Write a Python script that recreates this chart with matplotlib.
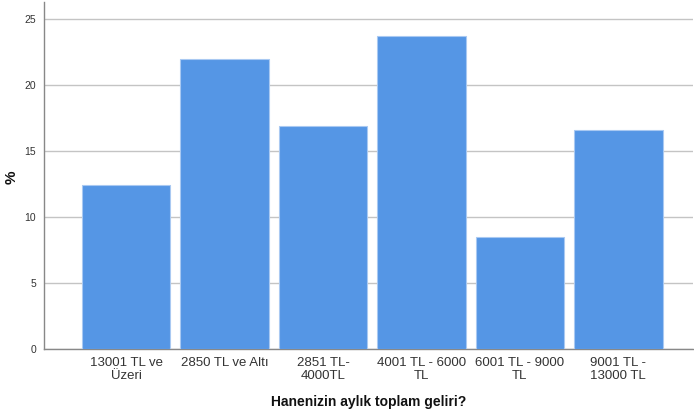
import matplotlib
matplotlib.use("Agg")
import matplotlib.pyplot as plt

categories = ["13001 TL ve\nÜzeri", "2850 TL ve Altı", "2851 TL-\n4000TL",
              "4001 TL - 6000\nTL", "6001 TL - 9000\nTL", "9001 TL -\n13000 TL"]
values = [12.4, 22.0, 16.9, 23.7, 8.5, 16.6]
yticks = [0, 5, 10, 15, 20, 25]

plt.rcParams['font.family'] = ['Liberation Sans', 'DejaVu Sans']

fig = plt.figure(figsize=(6.94, 4.16), dpi=100)
ax = fig.add_axes([0.064, 0.161, 0.9346, 0.834])

x = list(range(len(categories)))
ax.bar(x, values, width=0.9, color='#5596E5', edgecolor='#a9c9f2', linewidth=0.8, zorder=3)

ax.set_xlim(-0.83, 5.76)
ax.set_ylim(0, 26.3)
ax.set_yticks(yticks)
ax.set_yticklabels([str(t) for t in yticks], fontsize=7.5, color='#333333')
ax.yaxis.grid(True, color='#c4c4c4', linewidth=1.0, zorder=0)
ax.set_axisbelow(True)

ax.set_xticks(x)
ax.set_xticklabels(categories, fontsize=9.5, color='#333333', linespacing=1.08)
ax.tick_params(axis='x', length=0, pad=6)
ax.tick_params(axis='y', length=0, pad=6)

for s in ['top', 'right']:
    ax.spines[s].set_visible(False)
ax.spines['left'].set_color('#888888')
ax.spines['bottom'].set_color('#888888')
ax.spines['left'].set_linewidth(1.0)
ax.spines['bottom'].set_linewidth(1.0)

ax.set_xlabel("Hanenizin aylık toplam geliri?", fontsize=10, fontweight='bold', color='#111111', labelpad=9)
fig.text(12 / 694, 1 - 177 / 416, "%", fontsize=11, fontweight='bold', color='#111111',
         rotation=90, ha='center', va='center')

fig.savefig("out.png", dpi=100)
